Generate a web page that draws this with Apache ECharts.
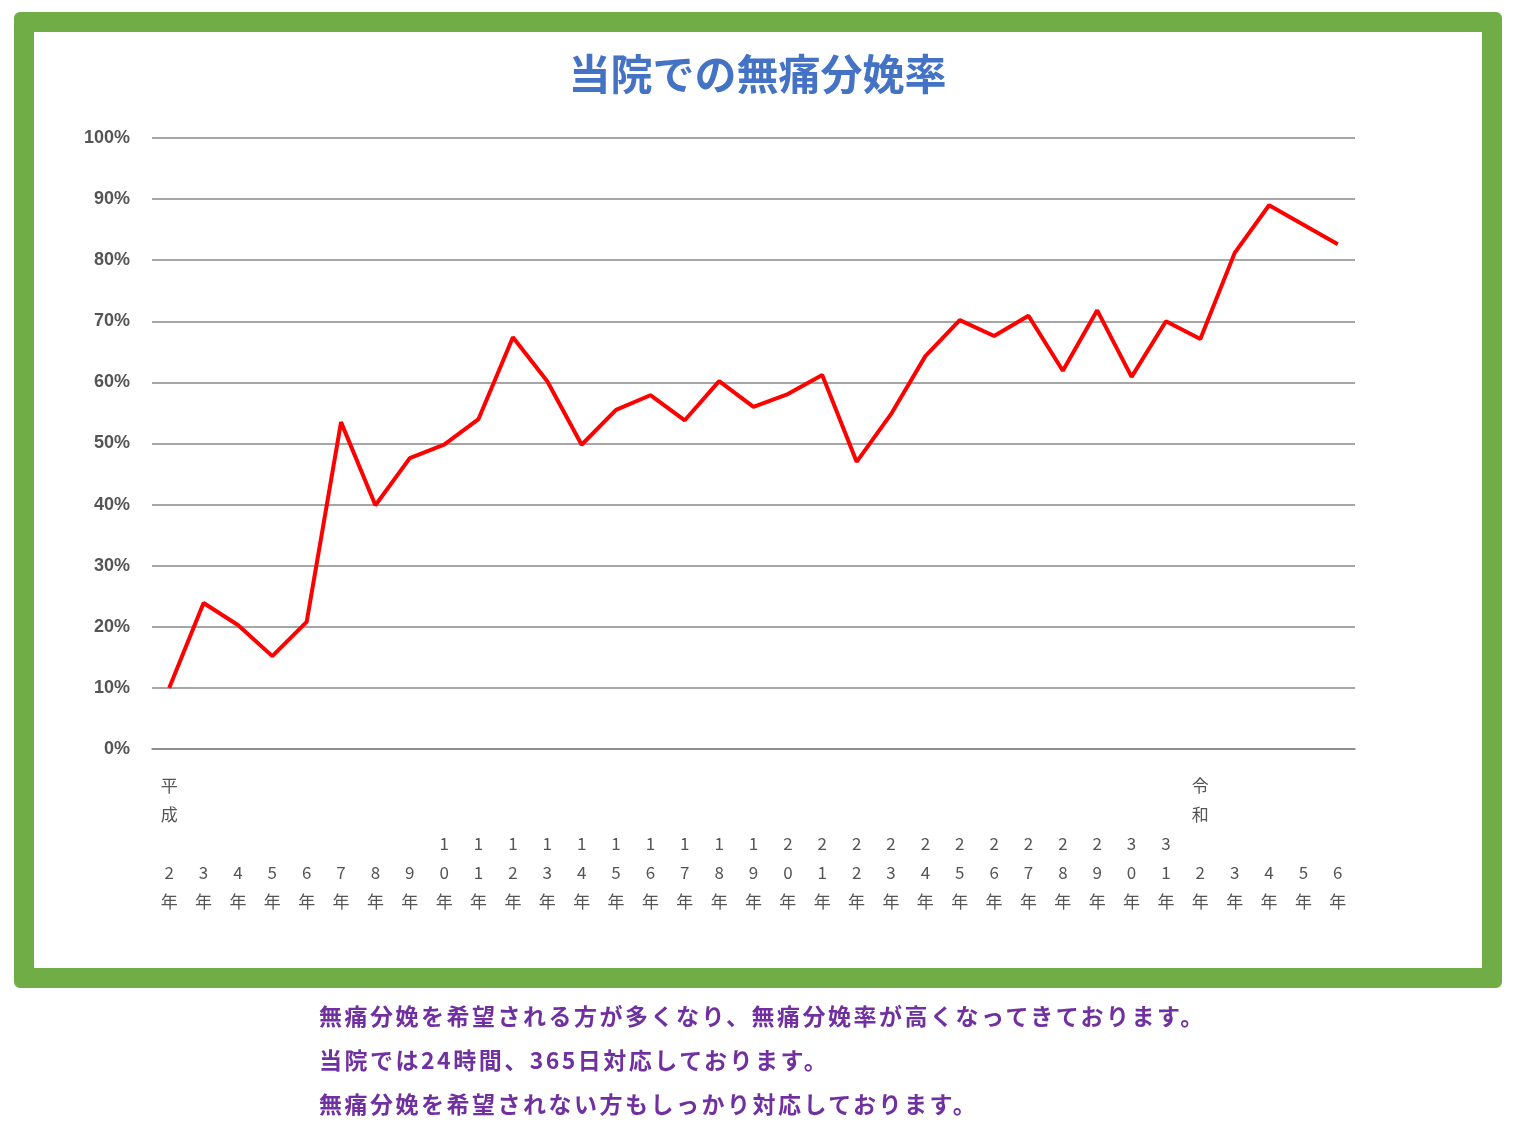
<!DOCTYPE html>
<html>
<head>
<meta charset="utf-8" />
<title></title>
<style>
body { margin:0; background:#fff; }
#frame { position:absolute; left:14px; top:12px; width:1448px; height:936px; border:20px solid #70AD47; border-radius:6px; }
#main { position:absolute; left:0; top:0; width:1515px; height:1133px; }
#note { position:absolute; left:319px; top:993px; color:#7030A0; font-family:"Noto Sans CJK JP"; font-weight:bold; font-size:23px; letter-spacing:2.5px; line-height:44px; }
</style>
</head>
<body>
<div id="frame"></div>
<div id="main"></div>
<div id="note">無痛分娩を希望される方が多くなり、無痛分娩率が高くなってきております。<br>当院では24時間、365日対応しております。<br>無痛分娩を希望されない方もしっかり対応しております。</div>
<script src="https://cdn.jsdelivr.net/npm/echarts@6/dist/echarts.min.js"></script>
<script>
// 年の区分（平成2年〜令和6年）
var eras = ['平成','','','','','','','','','','','','','','','','','','','','','','','','','','','','','','令和','','','',''];
var years = [2,3,4,5,6,7,8,9,10,11,12,13,14,15,16,17,18,19,20,21,22,23,24,25,26,27,28,29,30,31,2,3,4,5,6];
var rates = [10,23.9,20.3,15.2,20.8,53.5,39.9,47.6,49.8,54,67.4,60.2,49.8,55.5,57.9,53.8,60.2,56,58.1,61.2,47,54.8,64.3,70.2,67.6,70.9,61.9,71.8,60.9,70,67.1,81.2,89,85.8,82.6];

var categories = years.map(function (y, i) {
    var lines = ['', ''];
    if (eras[i]) lines = eras[i].split('');
    var d = String(y).split('');
    if (d.length == 1) d.unshift('');
    return lines.concat(d, ['年']).join('\n');
});

var myChart = echarts.init(document.getElementById('main'));
myChart.setOption({
    animation: false,
    title: {
        text: '当院での無痛分娩率', left: 'center', top: 48,
        textStyle: { color: '#4472C4', fontSize: 42, fontWeight: 'bold', fontFamily: 'Noto Sans CJK JP' }
    },
    grid: { left: 152, right: 160, top: 138, bottom: 384 },
    xAxis: {
        type: 'category', data: categories,
        axisLine: { lineStyle: { color: '#888', width: 1.5 } },
        axisTick: { show: false },
        axisLabel: { interval: 0, margin: 22, lineHeight: 29, color: '#555', fontSize: 17, fontFamily: 'Noto Sans CJK JP' }
    },
    yAxis: {
        type: 'value', min: 0, max: 100, interval: 10,
        axisLabel: { formatter: '{value}%', color: '#555', fontSize: 18, fontWeight: 'bold', margin: 22, fontFamily: 'Liberation Sans' },
        splitLine: { lineStyle: { color: '#888', width: 1.5 } }
    },
    series: [{
        type: 'line', data: rates, symbol: 'none',
        lineStyle: { color: '#FF0000', width: 4 }
    }]
});
</script>
</body>
</html>
